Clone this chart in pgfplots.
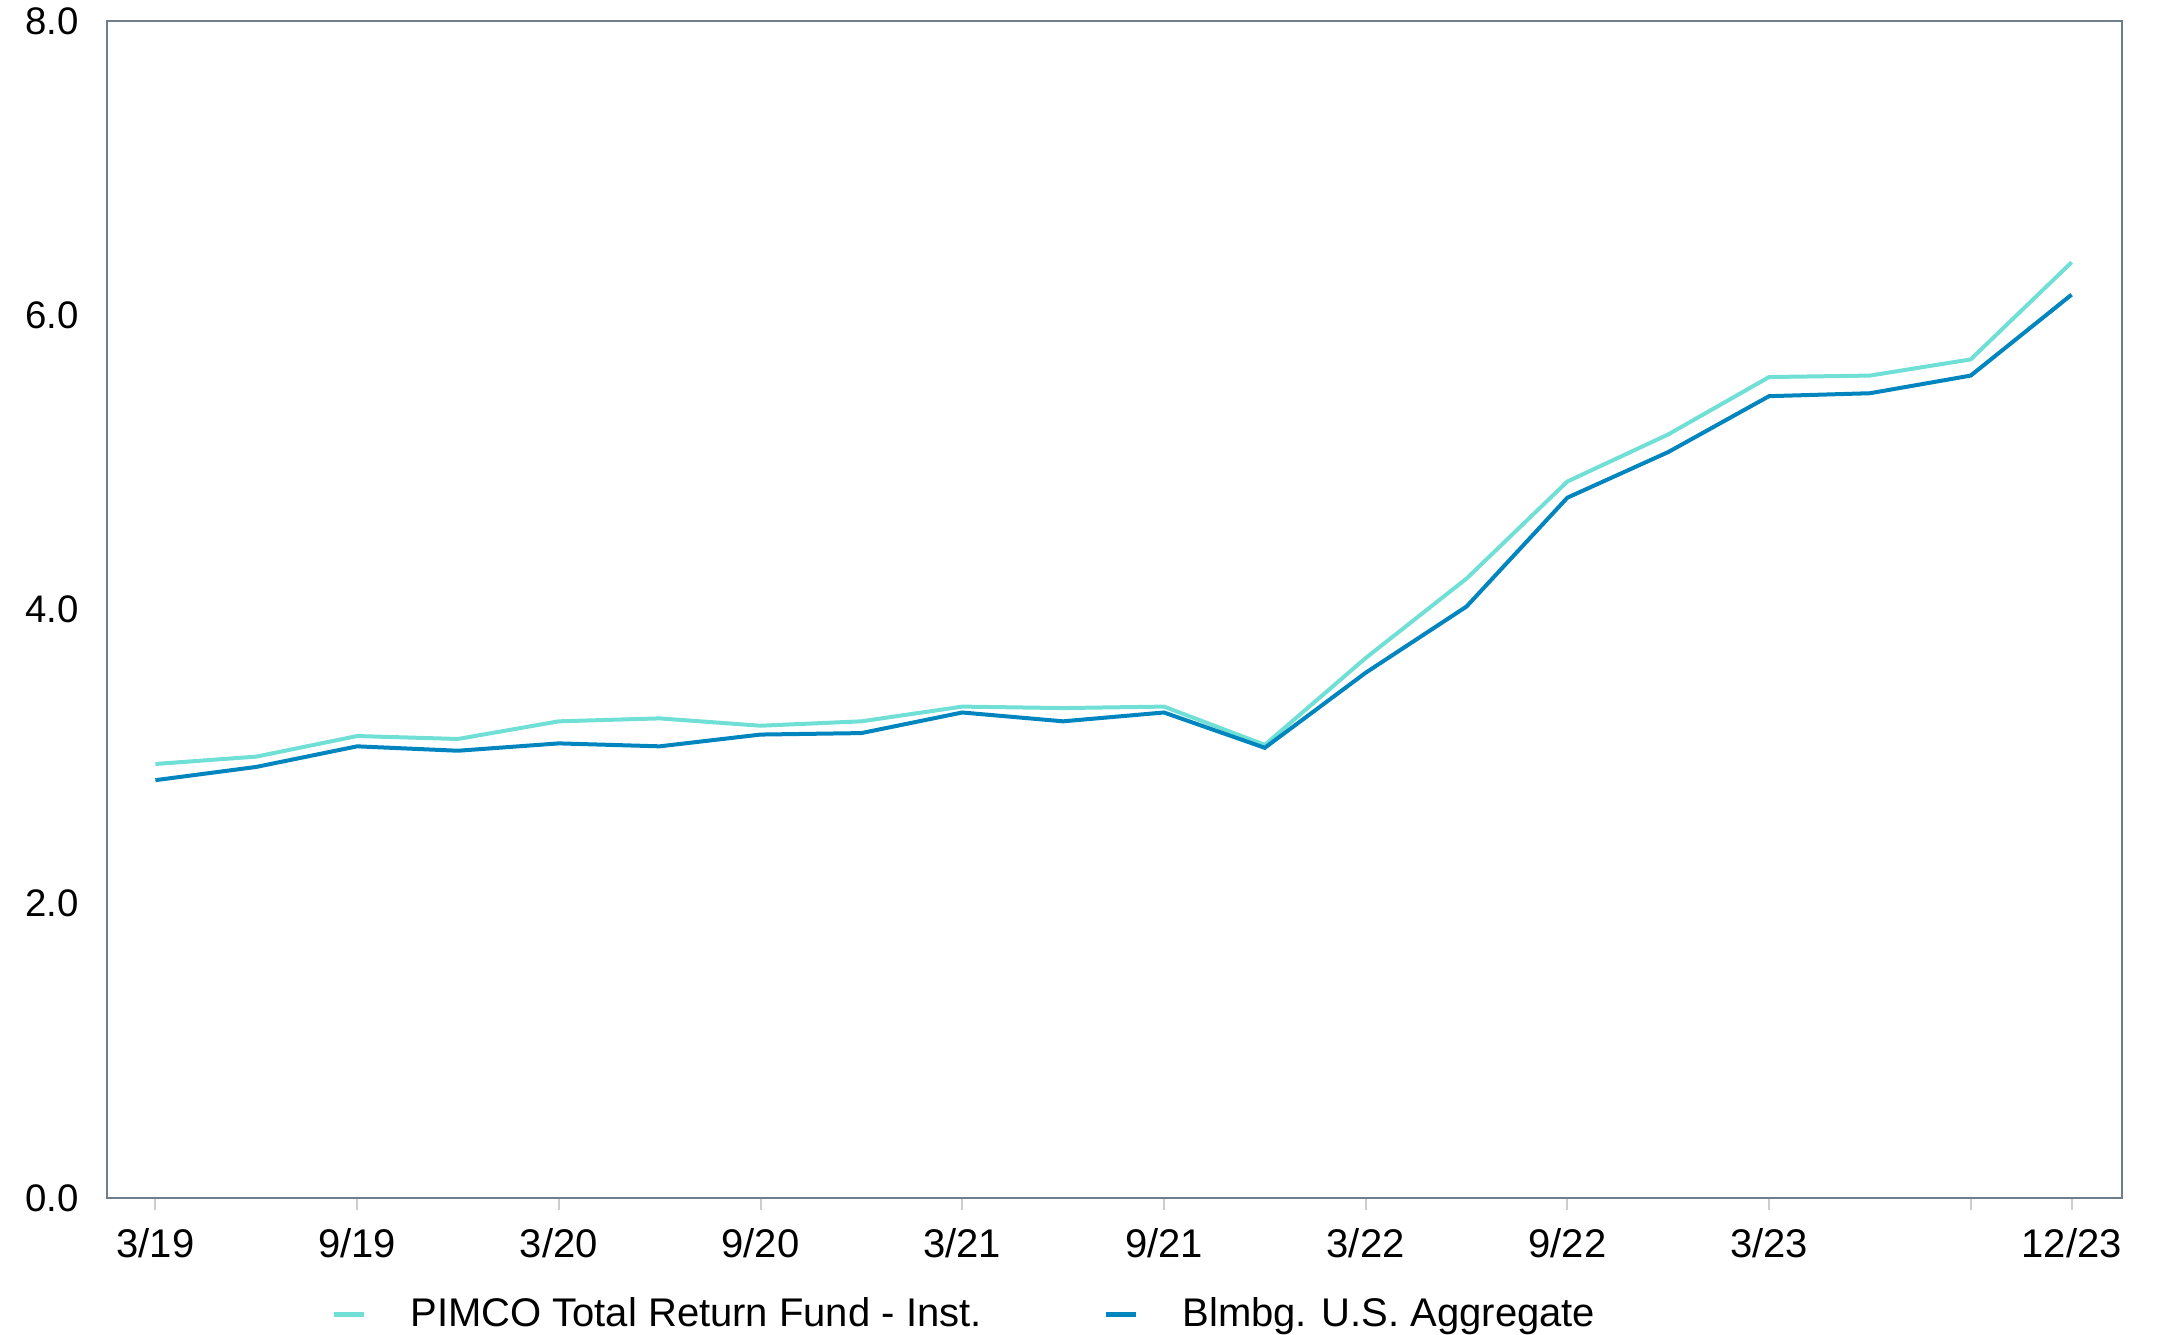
\documentclass[border=0pt]{standalone}
\usepackage{fontspec}
\setmainfont{Liberation Sans}
\usepackage{pgfplots}
\pgfplotsset{compat=1.18}
\usepackage{pgfplotstable}
\definecolor{fundc}{RGB}{112,224,214}
\definecolor{benchc}{RGB}{0,133,191}
\definecolor{framec}{RGB}{112,125,140}
\definecolor{tickc}{RGB}{205,205,205}
\pgfplotstableread{
x fund bench
0 2.95 2.84
1 3.00 2.93
2 3.14 3.07
3 3.12 3.04
4 3.24 3.09
5 3.26 3.07
6 3.21 3.15
7 3.24 3.16
8 3.34 3.30
9 3.33 3.24
10 3.34 3.30
11 3.08 3.06
12 3.67 3.57
13 4.21 4.02
14 4.87 4.76
15 5.19 5.07
16 5.58 5.45
17 5.59 5.47
18 5.70 5.59
19 6.36 6.14
}\datatable
\begin{document}
\begin{tikzpicture}
\useasboundingbox (0,0) rectangle (544.75pt,333.75pt);
\begin{axis}[
  at={(26.75pt,34.25pt)}, anchor=south west,
  scale only axis, width=503.75pt, height=294.25pt,
  xmin=-0.48, xmax=19.5, ymin=0, ymax=8,
  axis line style={draw=framec, line width=0.5pt},
  xtick={0,2,4,6,8,10,12,14,16,18,19},
  xticklabels={3/19,9/19,3/20,9/20,3/21,9/21,3/22,9/22,3/23,,12/23},
  ytick={0,2,4,6,8},
  x tick style={draw=tickc, line width=0.5pt},
  xtick pos=bottom, tick align=outside, major tick length=3pt,
  y tick style={draw=none},
  ytick pos=left,
  /pgf/number format/assume math mode=true,
  yticklabel={\pgfmathprintnumber[fixed,fixed zerofill,precision=1]{\tick}},
  yticklabel style={font=\fontsize{9.6}{11}\selectfont, anchor=east, xshift=-0.5pt},
  xticklabel style={font=\fontsize{10}{12}\selectfont, yshift=-1pt},
  legend columns=2,
  legend style={draw=none, fill=none, at={(0.4269,-0.099)}, anchor=center,
    font=\fontsize{10}{12}\selectfont,
    /tikz/every even column/.append style={column sep=28.4pt}},
  legend image code/.code={\draw[#1, line width=1.3pt] (0pt,0pt) -- (7.5pt,0pt);},
  legend cell align=left,
]
\addplot[color=fundc, line width=1pt] table[x=x, y=fund] {\datatable};
\addlegendentry{\hspace{9pt}PIMCO Total Return Fund - Inst.}
\addplot[color=benchc, line width=1pt] table[x=x, y=bench] {\datatable};
\addlegendentry{\hspace{9pt}Blmbg. U.S. Aggregate}
\end{axis}
\end{tikzpicture}
\end{document}
